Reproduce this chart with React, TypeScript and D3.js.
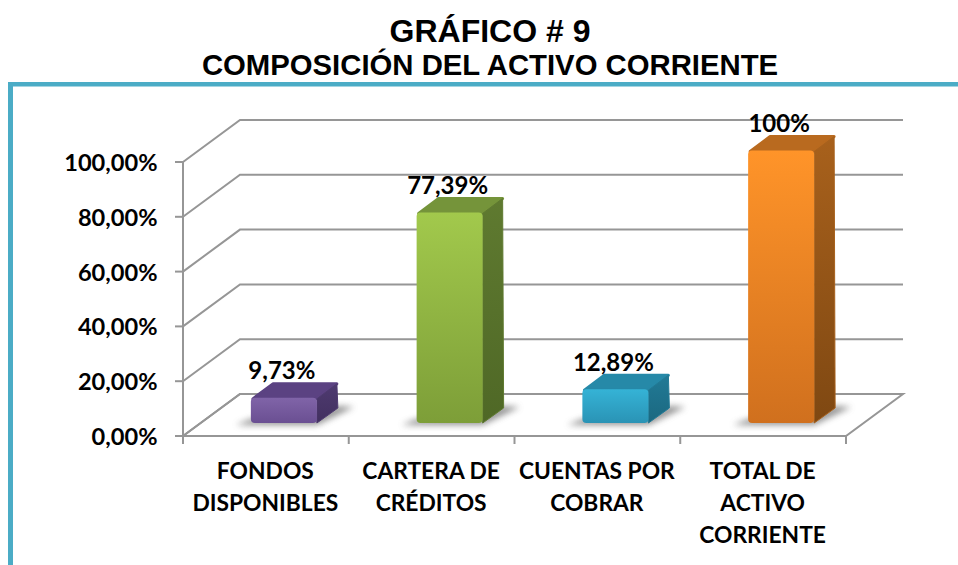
import React from "react";
import * as d3 from "d3";

const categories = [["FONDOS", "DISPONIBLES"], ["CARTERA DE", "CRÉDITOS"], ["CUENTAS POR", "COBRAR"], ["TOTAL DE", "ACTIVO", "CORRIENTE"]];
const values = [9.73, 77.39, 12.89, 100];
const valueLabels = ["9,73%", "77,39%", "12,89%", "100%"];
const ticks = [0, 20, 40, 60, 80, 100];
const tickLabels = ["0,00%", "20,00%", "40,00%", "60,00%", "80,00%", "100,00%"];
const fronts = [["#8064a8", "#6a4f92"], ["#a2c94c", "#7d9e38"], ["#35b3d6", "#2a93b5"], ["#ff9429", "#d0701e"]];
const tops = ["#5b4282", "#75943a", "#2689a8", "#b96a1f"];
const sides = [["#4e3a70", "#42305f"], ["#5f7a30", "#4f6826"], ["#217a96", "#1b6880"], ["#a8611c", "#7f4812"]];

const W = 958, H = 565;
const x = d3.scaleBand<number>().domain(d3.range(4)).range([183, 846]).paddingInner(0).paddingOuter(0);
const y = d3.scaleLinear().domain([0, 100]).range([436, 162]);
const DX = 57, DY = -42;
const barWidth = 66, bdx = 21, bdy = -15, fx = 18, fy = -13;
const grey = "#969696";
const sans = "'Liberation Sans', Arial, sans-serif";
const lato = "Lato, sans-serif";

export default function App() {
  const floor = `${x.range()[0]},${y(0)} ${x.range()[0] + DX},${y(0) + DY} ${x.range()[1] + DX},${y(0) + DY} ${x.range()[1]},${y(0)}`;
  return (
    <svg width={W} height={H} viewBox={`0 0 ${W} ${H}`} style={{ position: "absolute", left: 0, top: 0, background: "#fff" }}>
      <defs>
        {fronts.map((c, i) => (
          <linearGradient key={i} id={`f${i}`} x1="0" y1="0" x2="0" y2="1">
            <stop offset="0" stopColor={c[0]} /><stop offset="1" stopColor={c[1]} />
          </linearGradient>
        ))}
        {sides.map((c, i) => (
          <linearGradient key={i} id={`s${i}`} x1="0" y1="0" x2="0" y2="1">
            <stop offset="0" stopColor={c[0]} /><stop offset="1" stopColor={c[1]} />
          </linearGradient>
        ))}
        <filter id="blur" x="-30%" y="-60%" width="160%" height="220%"><feGaussianBlur stdDeviation="3" /></filter>
      </defs>

      <text x={490} y={42} textAnchor="middle" fontFamily={sans} fontWeight="bold" fontSize={32}>GRÁFICO # 9</text>
      <text x={490} y={75} textAnchor="middle" fontFamily={sans} fontWeight="bold" fontSize={29.3}>COMPOSICIÓN DEL ACTIVO CORRIENTE</text>

      <rect x={8} y={82} width={950} height={4.5} fill="#4bacc6" />
      <rect x={8} y={82} width={5} height={483} fill="#4bacc6" />

      <polygon points={floor} fill="#fff" stroke={grey} strokeWidth={2} />
      {ticks.map((t) => (
        <g key={t} stroke={grey} strokeWidth={2} fill="none">
          <polyline points={`${x.range()[0]},${y(t)} ${x.range()[0] + DX},${y(t) + DY} ${x.range()[1] + DX},${y(t) + DY}`} />
          <line x1={175} x2={x.range()[0]} y1={y(t)} y2={y(t)} />
        </g>
      ))}
      <line x1={183} x2={183} y1={y(100)} y2={444} stroke={grey} strokeWidth={2} />
      {[0, 1, 2, 3, 4].map(i => {
        const px = 183 + i * x.bandwidth();
        return <line key={i} x1={px} x2={px} y1={436} y2={444} stroke={grey} strokeWidth={2} />;
      })}

      {tickLabels.map((l, i) => (
        <text key={l} x={157.5} y={y(ticks[i]) + 9} textAnchor="end" fontFamily={lato} fontWeight="bold" fontSize={23.6} fill="#000">{l}</text>
      ))}

      {values.map((v, i) => {
        const x0 = x(i)! + x.bandwidth() / 2 + fx - barWidth / 2;
        const x1 = x0 + barWidth;
        const base = y(0) + fy;
        const topY = y(v) + fy + 1.5;
        return (
          <g key={i}>
            <polygon points={`${x0 - 15},${base + 2} ${x1},${base + 2} ${x1 + bdx + 16},${base + bdy - 1} ${x1 + bdx},${base + bdy - 2} ${x1},${base - 10} ${x0},${base - 4}`} fill="#666" opacity={0.7} filter="url(#blur)" />
            <polygon points={`${x0 + 2},${topY + 1} ${x0 + bdx + 1},${topY + bdy + 1} ${x1 + bdx - 1},${topY + bdy + 1} ${x1 - 1},${topY + 1}`} fill={tops[i]} stroke={tops[i]} strokeWidth={3} strokeLinejoin="round" />
            <polygon points={`${x1},${topY + 1} ${x1 + bdx - 1},${topY + bdy + 1} ${x1 + bdx},${base + bdy} ${x1},${base}`} fill={`url(#s${i})`} stroke={sides[i][0]} strokeWidth={1} strokeLinejoin="round" />
            <rect x={x0} y={topY} width={barWidth} height={base - topY} rx={4} fill={`url(#f${i})`} />
            <text x={x0 + barWidth / 2 - 2} y={topY + bdy - 3.5} textAnchor="middle" fontFamily={lato} fontWeight="bold" fontSize={24} fill="#000">{valueLabels[i]}</text>
          </g>
        );
      })}

      {categories.map((lines, i) => (
        <text key={i} textAnchor="middle" fontFamily={lato} fontWeight="bold" fontSize={22.8} fill="#000">
          {lines.map((l, j) => (
            <tspan key={j} x={x(i)! + x.bandwidth() / 2 - 0.5} y={479 + j * 32}>{l}</tspan>
          ))}
        </text>
      ))}
    </svg>
  );
}
